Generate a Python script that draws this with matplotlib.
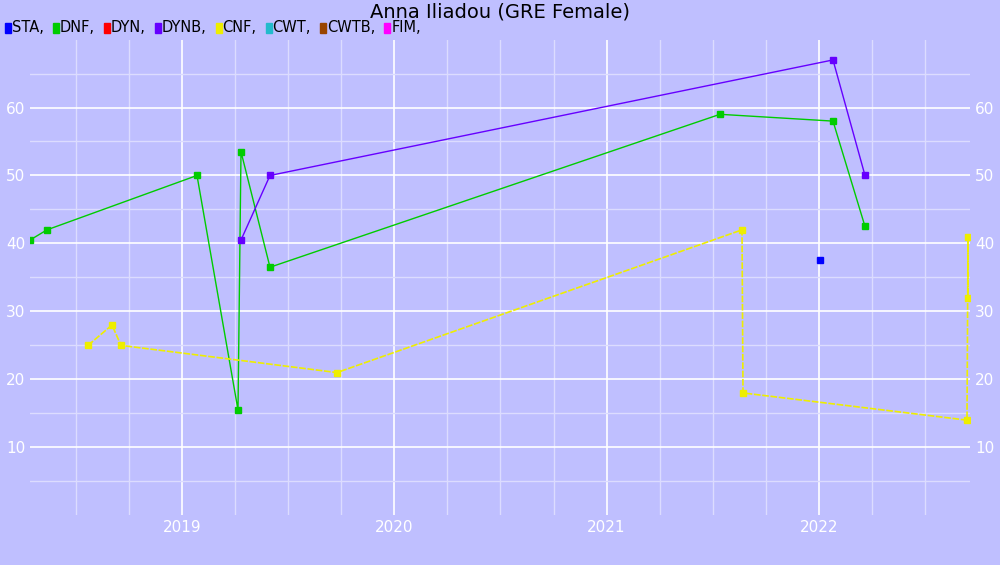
import matplotlib
matplotlib.use("Agg")
import matplotlib.pyplot as plt
import numpy as np

def px2yr(p): return 2019 + (p - 182) / 212.3

dnf_x = [px2yr(p) for p in [30, 47, 197, 238, 241, 270, 720, 833, 865]]
dnf_y = [40.5, 42, 50, 15.5, 53.5, 36.5, 59, 58, 42.5]
dynb_x = [px2yr(p) for p in [241, 270, 833, 865]]
dynb_y = [40.5, 50, 67, 50]
cnf_x = [px2yr(p) for p in [88, 112, 121, 337, 742, 743, 967, 968, 968]]
cnf_y = [25, 28, 25, 21, 42, 18, 14, 41, 32]
sta_x = [px2yr(820)]
sta_y = [37.5]
legend_names = ["STA", "DNF", "DYN", "DYNB", "CNF", "CWT", "CWTB", "FIM"]
legend_colors = ["#0000ff", "#00cc00", "#ff0000", "#6600ff", "#eeee00", "#22bbcc", "#994400", "#ff00ff"]
years = [2019, 2020, 2021, 2022]

bg = "#bfbfff"
fig = plt.figure(figsize=(10, 5.65), dpi=100, facecolor=bg)
ax = fig.add_axes([0.03, 0.088, 0.94, 0.842], facecolor=bg)
ax.set_xticks(years)
ax.set_xticklabels([str(y) for y in years])
ax.set_xticks([y + q for y in range(2018, 2023) for q in (0.25, 0.5, 0.75)], minor=True)
ax.set_yticks(range(10, 70, 10))
ax.set_yticks(range(5, 70, 10), minor=True)
ax.set_xlim(px2yr(30), px2yr(970))
ax.set_ylim(0, 70)
ax.grid(True, which="major", color="white", lw=1.2)
ax.grid(True, which="minor", color="#dcdcff", lw=1)
ax.set_axisbelow(True)
for s in ax.spines.values():
    s.set_visible(False)
ax.tick_params(which="both", colors="white", labelcolor="white", length=0, labelsize=11)
ax.tick_params(axis="y", right=True, labelright=True)

ax.plot(dnf_x, dnf_y, color="#00cc00", lw=1, marker="s", ms=5)
ax.plot(dynb_x, dynb_y, color="#6600ff", lw=1, marker="s", ms=5)
ax.plot(cnf_x, cnf_y, color="#eeee00", lw=1.2, ls=(0, (4, 1)), marker="s", ms=5)
ax.plot(sta_x, sta_y, color="#0000ff", ls="none", marker="s", ms=5)

fig.text(0.5, 0.978, "Anna Iliadou (GRE Female)", ha="center", va="center", fontsize=14)
x = 0.005
r = fig.canvas.get_renderer()
for n, c in zip(legend_names, legend_colors):
    fig.patches.append(plt.Rectangle((x, 0.942), 0.006, 0.018, color=c, transform=fig.transFigure))
    t = fig.text(x + 0.007, 0.951, n + ",", va="center", fontsize=10.5)
    w = t.get_window_extent(r).width / 1000
    x += 0.007 + w + 0.009

fig.savefig("out.png", facecolor=bg)
